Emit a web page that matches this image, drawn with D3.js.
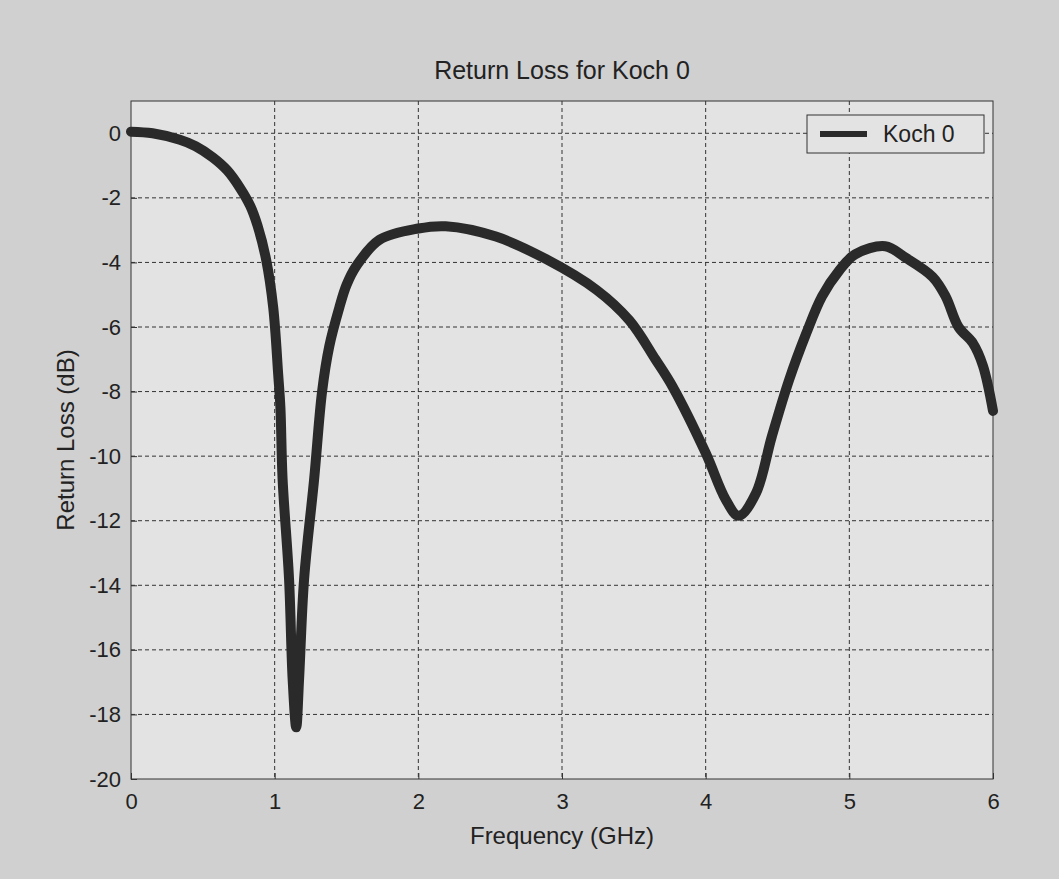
<!DOCTYPE html>
<html lang="en">

<head>
    <meta charset="UTF-8">
    <title>Return Loss for Koch 0</title>
    <script src="https://d3js.org/d3.v7.min.js"></script>
    <style>
        body {
            margin: 0;
            background: #d0d0d0;
        }

        text {
            font-family: "Liberation Sans", Arial, sans-serif;
            fill: #222;
        }

        .grid line {
            stroke: #333;
            stroke-width: 1;
            stroke-dasharray: 4, 3;
        }

        .line {
            fill: none;
            stroke: #2a2a2a;
            stroke-width: 10px;
            stroke-linejoin: round;
            stroke-linecap: round;
        }
    </style>
</head>

<body>
    <script>
        var freq = [0, 0.15, 0.34, 0.45, 0.57, 0.67, 0.76, 0.83, 0.88, 0.94, 0.99, 1.025, 1.04, 1.055,
            1.10, 1.125, 1.15, 1.17, 1.205, 1.275, 1.33, 1.38, 1.45, 1.50, 1.57, 1.73, 2.0, 2.19,
            2.54, 2.89, 3.24, 3.47, 3.65, 3.77, 4.0, 4.14, 4.23, 4.35, 4.46, 4.58, 4.70, 4.81,
            4.93, 5.04, 5.25, 5.39, 5.58, 5.67, 5.76, 5.86, 5.93, 6.0];
        var returnLoss = [0.05, 0.0, -0.2, -0.4, -0.75, -1.15, -1.7, -2.25, -2.85, -3.9, -5.4, -7.5, -8.5, -10.7,
            -13.8, -16.9, -18.4, -16.9, -13.8, -10.7, -8.0, -6.6, -5.4, -4.7, -4.1, -3.3, -2.95, -2.88,
            -3.2, -3.9, -4.85, -5.8, -7.0, -7.85, -9.9, -11.35, -11.85, -11.15, -9.4, -7.65, -6.2, -5.05,
            -4.25, -3.75, -3.5, -3.85, -4.45, -5.05, -6.0, -6.5, -7.2, -8.6];
        var xTicks = [0, 1, 2, 3, 4, 5, 6];
        var yTicks = [0, -2, -4, -6, -8, -10, -12, -14, -16, -18, -20];
        var seriesName = "Koch 0";

        var data = freq.map(function (f, i) { return { f: f, rl: returnLoss[i] }; });

        // Set up SVG dimensions
        var margin = { top: 101, right: 66, bottom: 100, left: 131 },
            width = 1059 - margin.left - margin.right,
            height = 879 - margin.top - margin.bottom;

        var svgRoot = d3.select("body").append("svg")
            .attr("width", 1059)
            .attr("height", 879);

        svgRoot.append("rect")
            .attr("width", 1059).attr("height", 879)
            .attr("fill", "#d0d0d0");

        var svg = svgRoot.append("g")
            .attr("transform", "translate(" + margin.left + "," + margin.top + ")");

        // Set up scales
        var x = d3.scaleLinear().domain([0, 6]).range([0, width]);
        var y = d3.scaleLinear().domain([-20, 1]).range([height, 0]);

        // plot area
        svg.append("rect")
            .attr("width", width).attr("height", height)
            .attr("fill", "#e3e3e3");

        // grid lines
        svg.append("g")
            .attr("class", "grid")
            .selectAll("line")
            .data(xTicks.slice(1, -1))
            .enter().append("line")
            .attr("x1", d => x(d)).attr("x2", d => x(d))
            .attr("y1", 0).attr("y2", height);

        svg.append("g")
            .attr("class", "grid")
            .selectAll("line")
            .data(yTicks.slice(0, -1))
            .enter().append("line")
            .attr("x1", 0).attr("x2", width)
            .attr("y1", d => y(d)).attr("y2", d => y(d));

        // plain labels, hyphen minus like matlab
        var plain = function (d) { return String(d); };

        // Add the X Axis (ticks inside, like matlab)
        var xAxis = svg.append("g")
            .attr("transform", "translate(0," + height + ")")
            .call(d3.axisBottom(x).tickValues(xTicks).tickFormat(plain).tickSize(-6).tickPadding(14));
        var yAxis = svg.append("g")
            .call(d3.axisLeft(y).tickValues(yTicks).tickFormat(plain).tickSize(-6).tickPadding(10));

        [xAxis, yAxis].forEach(function (a) {
            a.select(".domain").remove();
            a.selectAll("line").attr("stroke", "#333");
            a.selectAll("text").style("font-size", "22px").attr("fill", "#222");
        });

        // box
        svg.append("rect")
            .attr("width", width).attr("height", height)
            .attr("fill", "none")
            .attr("stroke", "#333")
            .attr("stroke-width", 1);

        // the curve
        var valueline = d3.line()
            .curve(d3.curveCatmullRom)
            .x(d => x(d.f))
            .y(d => y(d.rl));

        svg.append("path")
            .data([data])
            .attr("class", "line")
            .attr("d", valueline);

        // legend
        var legend = svg.append("g")
            .attr("transform", "translate(" + (width - 186) + ",14)");
        legend.append("rect")
            .attr("width", 177).attr("height", 38)
            .attr("fill", "#e3e3e3")
            .attr("stroke", "#333");
        legend.append("line")
            .attr("x1", 13).attr("x2", 60)
            .attr("y1", 19).attr("y2", 19)
            .attr("stroke", "#2a2a2a")
            .attr("stroke-width", 6);
        legend.append("text")
            .attr("x", 76).attr("y", 19)
            .attr("dy", "0.35em")
            .style("font-size", "23px")
            .text(seriesName);

        // title and labels
        svgRoot.append("text")
            .attr("x", margin.left + width / 2).attr("y", 70)
            .attr("dy", "0.35em")
            .attr("text-anchor", "middle")
            .style("font-size", "25px")
            .text("Return Loss for Koch 0");

        svgRoot.append("text")
            .attr("x", margin.left + width / 2).attr("y", 836)
            .attr("dy", "0.35em")
            .attr("text-anchor", "middle")
            .style("font-size", "24px")
            .text("Frequency (GHz)");

        svgRoot.append("text")
            .attr("transform", "translate(66," + (margin.top + height / 2) + ") rotate(-90)")
            .attr("dy", "0.35em")
            .attr("text-anchor", "middle")
            .style("font-size", "24px")
            .text("Return Loss (dB)");
    </script>
</body>

</html>
